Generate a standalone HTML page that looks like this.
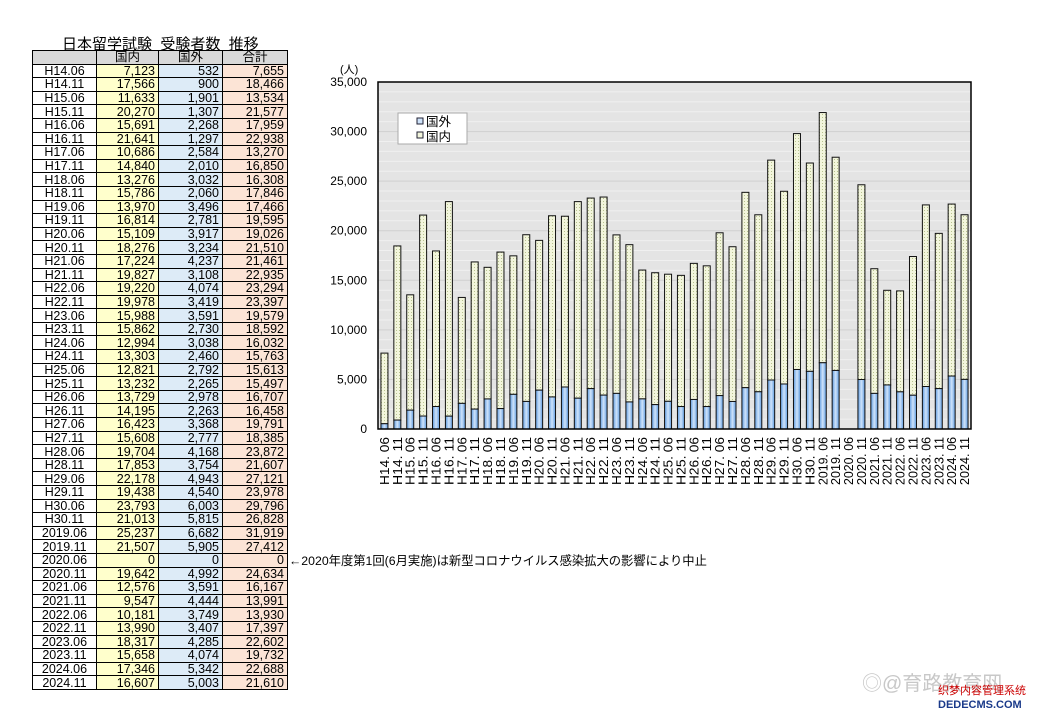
<!DOCTYPE html>
<html><head><meta charset="utf-8">
<style>
body{margin:0;background:#fff;width:1046px;height:718px;overflow:hidden;position:relative;font-family:"Liberation Sans","Noto Sans CJK JP",sans-serif;}
#title{position:absolute;left:62px;top:33px;font-size:15px;white-space:nowrap;}
table{position:absolute;left:32px;top:50px;border-collapse:collapse;font-size:12.5px;}
td{border:1px solid #000;height:12.6px;padding:0 3px;line-height:12px;}
td.l{width:57px;text-align:center;background:#fff}
td.a{width:55px;text-align:right;background:#ffffcc}
td.b{width:57px;text-align:right;background:#ddebf7}
td.c{width:58px;text-align:right;background:#fce4d6}
tr.h td{background:#d9d9d9;text-align:center}
#note{position:absolute;left:289px;top:551px;font-size:12.3px;white-space:nowrap}
svg{position:absolute;left:0;top:0}
</style></head><body>
<div id="title">日本留学試験&nbsp;&nbsp;受験者数&nbsp;&nbsp;推移</div>
<table id="t"><tr class="h"><td class="l"></td><td class="a">国内</td><td class="b">国外</td><td class="c">合計</td></tr></table>
<div id="note">←2020年度第1回(6月実施)は新型コロナウイルス感染拡大の影響により中止</div>
<svg id="s" width="1046" height="718" xmlns="http://www.w3.org/2000/svg"></svg>
<script>
var D=[["H14.06",7123,532],["H14.11",17566,900],["H15.06",11633,1901],["H15.11",20270,1307],["H16.06",15691,2268],["H16.11",21641,1297],["H17.06",10686,2584],["H17.11",14840,2010],["H18.06",13276,3032],["H18.11",15786,2060],["H19.06",13970,3496],["H19.11",16814,2781],["H20.06",15109,3917],["H20.11",18276,3234],["H21.06",17224,4237],["H21.11",19827,3108],["H22.06",19220,4074],["H22.11",19978,3419],["H23.06",15988,3591],["H23.11",15862,2730],["H24.06",12994,3038],["H24.11",13303,2460],["H25.06",12821,2792],["H25.11",13232,2265],["H26.06",13729,2978],["H26.11",14195,2263],["H27.06",16423,3368],["H27.11",15608,2777],["H28.06",19704,4168],["H28.11",17853,3754],["H29.06",22178,4943],["H29.11",19438,4540],["H30.06",23793,6003],["H30.11",21013,5815],["2019.06",25237,6682],["2019.11",21507,5905],["2020.06",0,0],["2020.11",19642,4992],["2021.06",12576,3591],["2021.11",9547,4444],["2022.06",10181,3749],["2022.11",13990,3407],["2023.06",18317,4285],["2023.11",15658,4074],["2024.06",17346,5342],["2024.11",16607,5003]];
function f(n){return n.toLocaleString('en-US');}
var t=document.getElementById('t'),h='';
D.forEach(function(d){h+='<tr><td class="l">'+d[0]+'</td><td class="a">'+f(d[1])+'</td><td class="b">'+f(d[2])+'</td><td class="c">'+f(d[1]+d[2])+'</td></tr>';});
t.innerHTML+=h;
var L=378,R=971,T=82,B=429,W=(R-L)/46,S=(B-T)/35000;
var g='<defs><linearGradient id="bl" x1="0" x2="1"><stop offset="0" stop-color="#5e9be0"/><stop offset="0.5" stop-color="#cfe3fa"/><stop offset="1" stop-color="#5e9be0"/></linearGradient><pattern id="dt" width="3" height="3" patternUnits="userSpaceOnUse"><rect width="3" height="3" fill="#f2f5dc"/><rect width="1" height="1" fill="#b8c290"/></pattern></defs>';
g+='<rect x="'+L+'" y="'+T+'" width="'+(R-L)+'" height="'+(B-T)+'" fill="#e4e4e4"/>';
for(var v=1000;v<35000;v+=1000){var y=B-v*S;g+='<line x1="'+L+'" x2="'+R+'" y1="'+y+'" y2="'+y+'" stroke="'+(v%5000?'#f0f0f0':'#d0d0d0')+'" stroke-width="1"/>';}
for(var v=0;v<=35000;v+=5000){var y=B-v*S;g+='<text x="367" y="'+(y+4)+'" font-size="12" text-anchor="end">'+f(v)+'</text>';}
g+='<text x="340" y="73" font-size="11">(人)</text>';
D.forEach(function(d,i){var cx=L+W*(i+0.5),x=cx-3.5;
 if(d[1]+d[2]>0){var yb=B-d[2]*S,yt=B-(d[1]+d[2])*S;
 g+='<rect x="'+x+'" y="'+yt+'" width="7" height="'+(yb-yt)+'" fill="url(#dt)" stroke="#111" stroke-width="1"/>';
 g+='<rect x="'+x+'" y="'+yb+'" width="7" height="'+(B-yb)+'" fill="url(#bl)" stroke="#111" stroke-width="1"/>';}
 g+='<text transform="translate('+(cx+4.5)+',437) rotate(-90)" font-size="12.5" text-anchor="end" textLength="48" lengthAdjust="spacingAndGlyphs">'+d[0].replace('.','. ')+'</text>';});
g+='<rect x="'+L+'" y="'+T+'" width="'+(R-L)+'" height="'+(B-T)+'" fill="none" stroke="#000" stroke-width="1.5"/>';
g+='<rect x="398" y="113" width="69" height="31" fill="#fff" stroke="#aaa"/>';
g+='<rect x="417" y="118" width="6" height="6" fill="#cfe3fa" stroke="#223"/><text x="426" y="126" font-size="12.5">国外</text>';
g+='<rect x="417" y="132" width="6" height="6" fill="#f2f5dc" stroke="#223"/><text x="426" y="141" font-size="12.5">国内</text>';
g+='<text x="862" y="690" font-size="20" fill="#c8c8c8">◎@育路教育网</text>';
g+='<text x="938" y="694" font-size="11" fill="#c00">织梦内容管理系统</text><text x="938" y="708" font-size="11" fill="#1a3a8a" font-weight="bold">DEDECMS.COM</text>';
document.getElementById('s').innerHTML=g;
</script>
</body></html>
